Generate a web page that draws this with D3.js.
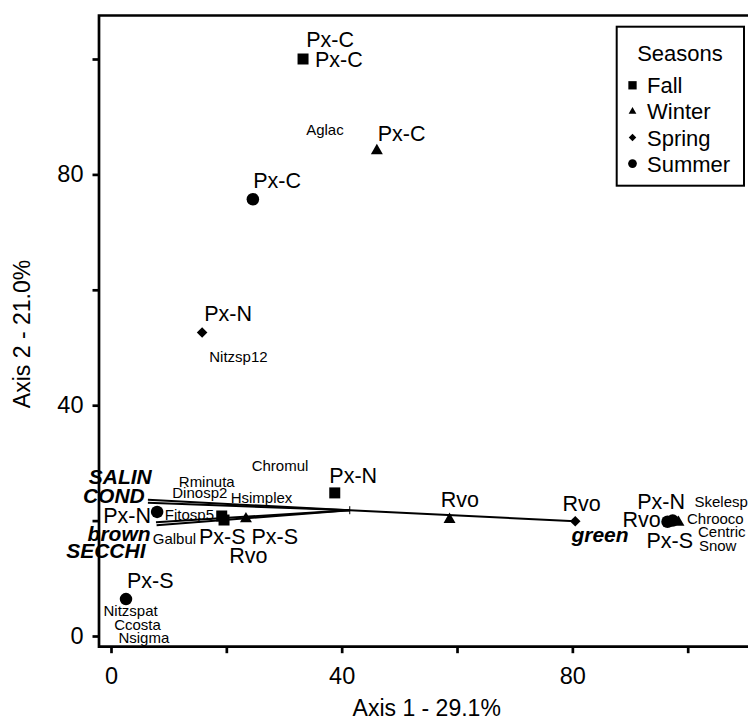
<!DOCTYPE html>
<html>
<head>
<meta charset="utf-8">
<script src="https://cdn.jsdelivr.net/npm/d3@7"></script>
<style>
  body { margin: 0; background: #fff; }
  svg { display: block; font-family: "Liberation Sans", Arial, sans-serif; }
</style>
</head>
<body>
<svg id="chart" width="748" height="721"></svg>
<script>
// sample scores per season [axis1, axis2]
const fallPoints   = [[33.3, 100.0], [38.8, 24.8], [19.2, 20.8], [19.6, 20.1]];
const winterPoints = [[46.1, 84.1], [23.4, 20.3], [58.7, 20.2], [98.4, 19.7]];
const springPoints = [[15.8, 52.6], [80.5, 19.9]];
const summerPoints = [[24.6, 75.7], [8.0, 21.5], [2.6, 6.4], [96.5, 19.8], [97.4, 20.0]];

// site labels [text, axis1, axis2]
const siteLabels = [
  ["Px-C", 38.0, 103.4], ["Px-C", 39.5, 99.9], ["Px-C", 50.4, 87.2], ["Px-C", 28.8, 79.0],
  ["Px-N", 20.3, 55.9], ["Px-N", 42.0, 27.9], ["Px-N", 2.8, 21.0], ["Px-N", 95.4, 23.3],
  ["Px-S", 19.3, 17.3], ["Px-S", 28.4, 17.3], ["Px-S", 6.8, 9.7], ["Px-S", 96.9, 16.6],
  ["Rvo", 23.8, 14.0], ["Rvo", 60.5, 23.7], ["Rvo", 81.6, 23.0], ["Rvo", 92.0, 20.2]
];

// species labels [text, axis1, axis2]
const speciesLabels = [
  ["Aglac", 37.1, 87.7], ["Nitzsp12", 22.1, 48.5], ["Chromul", 29.3, 29.5],
  ["Rminuta", 16.6, 26.7], ["Dinosp2", 15.4, 24.8], ["Hsimplex", 26.1, 23.9],
  ["Fitosp5", 13.6, 21.1], ["Galbul", 11.0, 16.8], ["Nitzspat", 3.4, 4.4],
  ["Ccosta", 4.6, 2.0], ["Nsigma", 5.7, -0.3], ["Skelesp", 105.8, 23.3],
  ["Chrooco", 104.8, 20.3], ["Centric", 105.9, 18.1], ["Snow", 105.2, 15.6]
];

// environmental vectors: origin and tips [name, axis1, axis2]
const vectorOrigin = [41.4, 21.8];
const vectorTips = [["SALIN", 6.4, 23.6], ["COND", 6.4, 23.1], ["brown", 7.8, 19.7], ["SECCHI", 7.9, 19.2], ["green", 80.5, 19.9]];
const vectorLabels = [["SALIN", 1.6, 27.7], ["COND", 0.5, 24.3], ["brown", 1.4, 17.8], ["SECCHI", -0.9, 14.9], ["green", 84.8, 17.6]];

const seasons = ["Fall", "Winter", "Spring", "Summer"];
const tickValues = [0, 20, 40, 60, 80, 100];
const labelledTicks = [0, 40, 80];
const xTitle = "Axis 1 - 29.1%";
const yTitle = "Axis 2 - 21.0%";
const legendTitle = "Seasons";

const svg = d3.select("#chart");
const font = '"Liberation Sans", Arial, sans-serif';

const x = d3.scaleLinear().domain([0, 100]).range([111, 687.7]);
const y = d3.scaleLinear().domain([0, 100]).range([636, 59]);

const frameLeft = 99, frameBottom = 646.7, frameTop = 15.5, frameRight = 760;

// frame (left, bottom and top, open to the right)
svg.append("path")
    .attr("d", `M${frameRight},${frameTop}H${frameLeft}V${frameBottom}H${frameRight}`)
    .attr("fill", "none")
    .attr("stroke", "#000")
    .attr("stroke-width", 2.7);

const fmt = d => labelledTicks.includes(d) ? d : "";

const gx = svg.append("g")
    .attr("transform", `translate(0,${frameBottom})`)
    .call(d3.axisBottom(x).tickValues(tickValues).tickSize(6.5).tickPadding(14).tickFormat(fmt));
const gy = svg.append("g")
    .attr("transform", `translate(${frameLeft},0)`)
    .call(d3.axisLeft(y).tickValues(tickValues).tickSize(6.5).tickPadding(9).tickFormat(fmt));

[gx, gy].forEach(g => {
    g.select(".domain").remove();
    g.selectAll(".tick line").attr("stroke", "#000").attr("stroke-width", 2.7);
    g.selectAll(".tick text").attr("fill", "#000").style("font-size", "23.5px").style("font-family", font);
});

// axis titles
svg.append("text")
    .attr("x", 426.7).attr("y", 716)
    .attr("text-anchor", "middle")
    .style("font-size", "23px")
    .text(xTitle);
svg.append("text")
    .attr("transform", "translate(30,334) rotate(-90)")
    .attr("text-anchor", "middle")
    .style("font-size", "23px")
    .text(yTitle);

// environmental vectors
vectorTips.forEach(t => {
    svg.append("line")
        .attr("x1", x(vectorOrigin[0])).attr("y1", y(vectorOrigin[1]))
        .attr("x2", x(t[1])).attr("y2", y(t[2]))
        .attr("stroke", "#000")
        .attr("stroke-width", 2);
});
svg.append("line")
    .attr("x1", x(vectorOrigin[0])).attr("x2", x(vectorOrigin[0]))
    .attr("y1", y(vectorOrigin[1]) - 4).attr("y2", y(vectorOrigin[1]) + 4)
    .attr("stroke", "#000").attr("stroke-width", 1);

vectorLabels.forEach(l => {
    svg.append("text")
        .attr("x", x(l[1])).attr("y", y(l[2]))
        .attr("dy", "0.36em")
        .attr("text-anchor", "middle")
        .style("font-size", "21px")
        .style("font-weight", "bold")
        .style("font-style", "italic")
        .text(l[0]);
});

// sample markers
const shapes = {
    Fall:   { type: d3.symbolSquare, size: 121, rot: 0 },
    Winter: { type: d3.symbolTriangle, size: 62, rot: 0 },
    Spring: { type: d3.symbolSquare, size: 56, rot: 45 },
    Summer: { type: d3.symbolCircle, size: 123, rot: 0 }
};
const seasonPoints = { Fall: fallPoints, Winter: winterPoints, Spring: springPoints, Summer: summerPoints };

seasons.forEach(s => {
    const sh = shapes[s];
    svg.append("g").selectAll("path")
        .data(seasonPoints[s])
        .join("path")
        .attr("d", d3.symbol().type(sh.type).size(sh.size))
        .attr("transform", d => `translate(${x(d[0])},${y(d[1])}) rotate(${sh.rot})`)
        .attr("fill", "#000");
});

// labels
svg.append("g").selectAll("text")
    .data(siteLabels)
    .join("text")
    .attr("x", d => x(d[1])).attr("y", d => y(d[2]))
    .attr("dy", "0.36em")
    .attr("text-anchor", "middle")
    .style("font-size", "21.5px")
    .text(d => d[0]);

svg.append("g").selectAll("text")
    .data(speciesLabels)
    .join("text")
    .attr("x", d => x(d[1])).attr("y", d => y(d[2]))
    .attr("dy", "0.36em")
    .attr("text-anchor", "middle")
    .style("font-size", "15px")
    .text(d => d[0]);

// legend
const legend = svg.append("g");
legend.append("rect")
    .attr("x", 616.7).attr("y", 26.7)
    .attr("width", 127.3).attr("height", 159)
    .attr("fill", "#fff").attr("stroke", "#000").attr("stroke-width", 2);
legend.append("text")
    .attr("x", 680).attr("y", 60.7)
    .attr("text-anchor", "middle")
    .style("font-size", "22px")
    .text(legendTitle);

const legendShapes = {
    Fall:   { type: d3.symbolSquare, size: 69, rot: 0 },
    Winter: { type: d3.symbolTriangle, size: 26, rot: 0 },
    Spring: { type: d3.symbolSquare, size: 28, rot: 45 },
    Summer: { type: d3.symbolCircle, size: 60, rot: 0 }
};
seasons.forEach((s, i) => {
    const by = 93.3 + i * 26.1;
    const sh = legendShapes[s];
    legend.append("path")
        .attr("d", d3.symbol().type(sh.type).size(sh.size))
        .attr("transform", `translate(632.5,${by - 8}) rotate(${sh.rot})`)
        .attr("fill", "#000");
    legend.append("text")
        .attr("x", 647).attr("y", by)
        .style("font-size", "22px")
        .text(s);
});
</script>
</body>
</html>
